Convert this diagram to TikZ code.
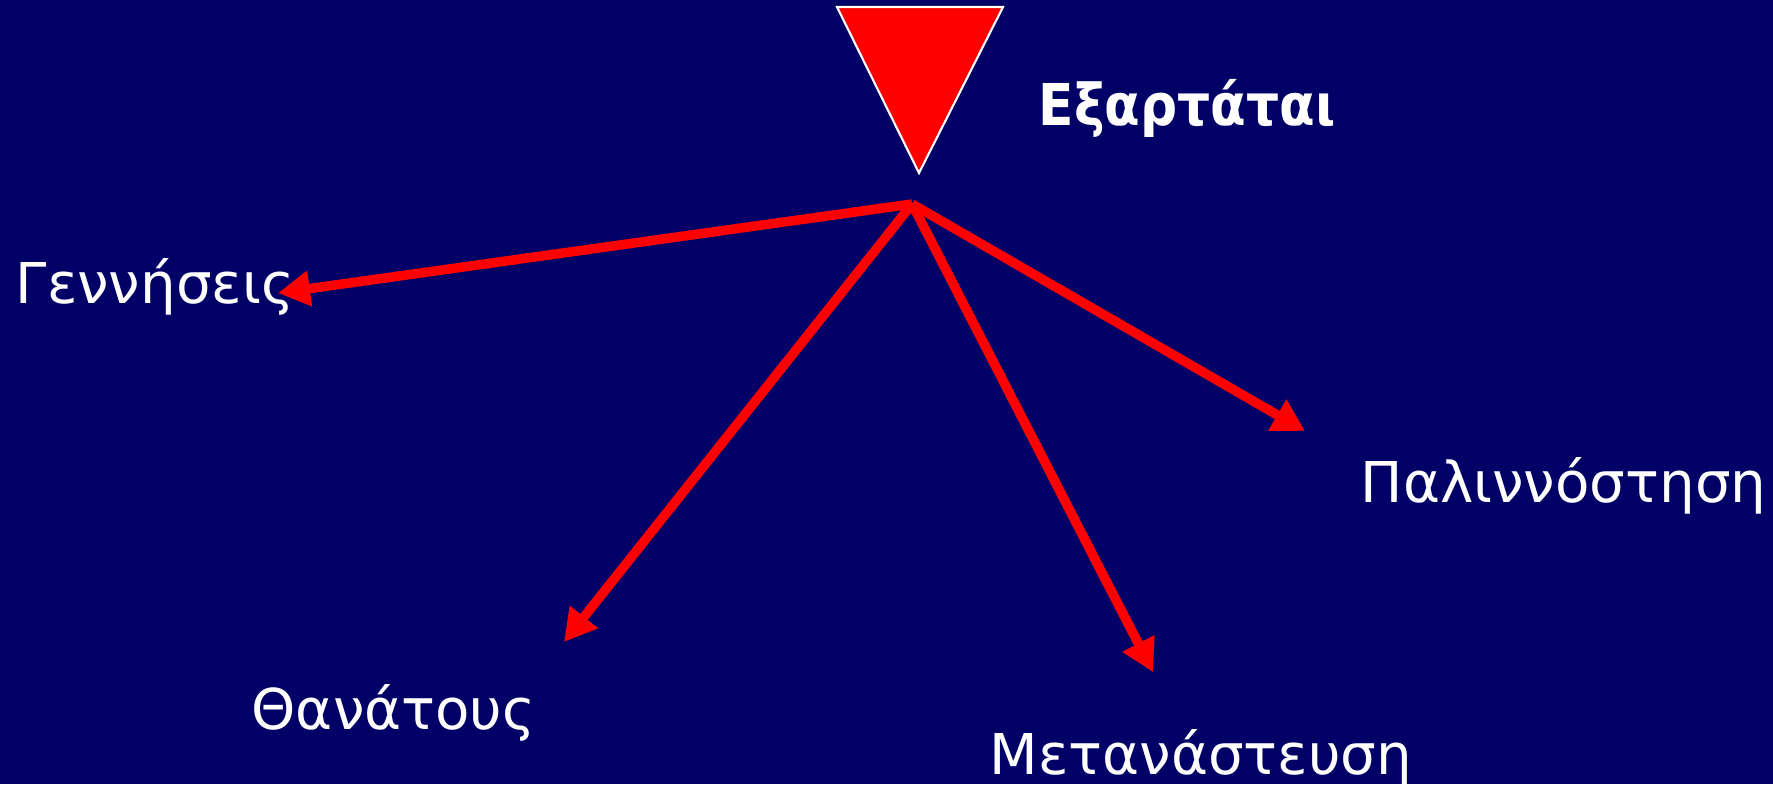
\documentclass[tikz,border=0pt]{standalone}
\usepackage{fontspec}
\setmainfont{DejaVu Sans}
\newfontfamily\titlefont{DejaVu Sans Condensed}
\usetikzlibrary{arrows.meta}
\definecolor{slidenavy}{HTML}{000066}
\definecolor{slidered}{HTML}{FF0000}

\begin{document}
\begin{tikzpicture}[
  x=0.01cm, y=-0.01cm,
  lbl/.style={anchor=base west, inner sep=0pt, text=white,
    font=\fontsize{16}{19}\selectfont},
  arr/.style={-{Triangle[length=0.32cm, width=0.34cm]}, line width=0.095cm, slidered}
]
  % background
  \fill[slidenavy] (0,0) rectangle (1773,784);
  \useasboundingbox (0,0) rectangle (1773,784);

  % funnel triangle and title
  \draw[white, fill=slidered, line width=0.6pt] (837,7) -- (1003,7) -- (919,173) -- cycle;
  \node[lbl, font=\titlefont\fontsize{16.4}{20}\selectfont\bfseries] (title) at (1038,125) {Εξαρτάται};

  \coordinate (hub) at (912,204);

  \node[lbl] (births) at (15,303) {Γεννήσεις};
  \node[lbl] (deaths) at (251,729) {Θανάτους};
  \node[lbl] (emig) at (989,774) {Μετανάστευση};
  \node[lbl] (return) at (1360,502) {Παλιννόστηση};

  \coordinate (births-tip) at (278,293);
  \coordinate (deaths-tip) at (564,642);
  \coordinate (emig-tip) at (1153,672);
  \coordinate (return-tip) at (1305,431);

  \draw[arr] (hub) -- (births-tip);
  \draw[arr] (hub) -- (deaths-tip);
  \draw[arr] (hub) -- (emig-tip);
  \draw[arr] (hub) -- (return-tip);
\end{tikzpicture}
\end{document}
